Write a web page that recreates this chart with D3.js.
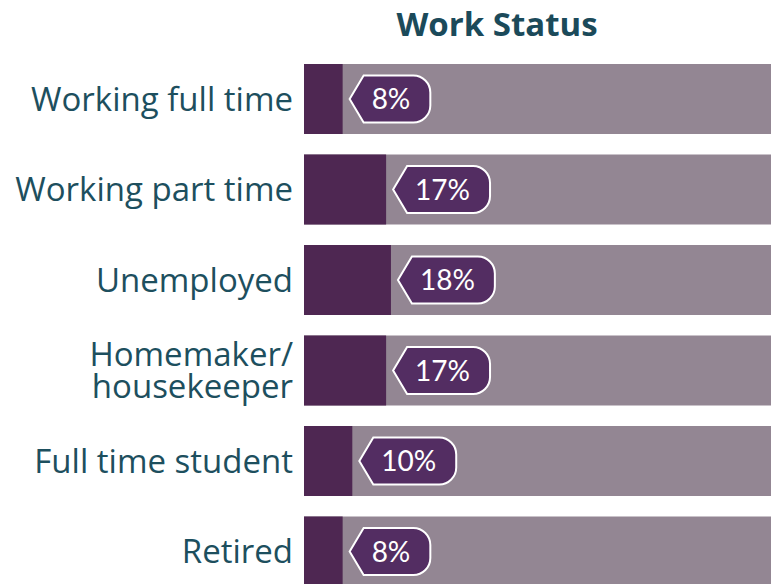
<!DOCTYPE html>
<html>
<head>
<meta charset="utf-8">
<script src="https://cdn.jsdelivr.net/npm/d3@7"></script>
<style>
  body { margin: 0; background: #fff; }
</style>
</head>
<body>
<div id="chart"></div>
<script>
var width = 772;
var height = 584;

// data
var categories = ["Working full time", "Working part time", "Unemployed",
  "Homemaker/\nhousekeeper", "Full time student", "Retired"];
var values = [8, 17, 18, 17, 10, 8];
var title = "Work Status";

var svg = d3.select("#chart").append("svg")
    .attr("width", width)
    .attr("height", height);

var x = d3.scaleLinear().domain([0, 100]).range([304, 787]);
var y = d3.scaleBand()
    .domain(categories)
    .range([64, 64 + 5 * 90.5 + 70])
    .paddingInner(20.5 / 90.5)
    .paddingOuter(0);

svg.append("text")
    .attr("x", 497)
    .attr("y", 36)
    .attr("text-anchor", "middle")
    .style("font-family", "Open Sans")
    .style("font-weight", "bold")
    .style("font-size", "33px")
    .style("fill", "#1b4a5a")
    .text(title);

var rows = svg.selectAll("g.row")
    .data(categories)
    .enter().append("g")
    .attr("class", "row");

// background track
rows.append("rect")
    .attr("x", x(0))
    .attr("y", d => y(d))
    .attr("width", 771 - x(0))
    .attr("height", y.bandwidth())
    .style("fill", "#938693");

// value bar
rows.append("rect")
    .attr("x", x(0))
    .attr("y", d => y(d))
    .attr("width", (d, i) => x(values[i]) - x(0))
    .attr("height", y.bandwidth())
    .style("fill", "#4e2752");

// category labels
rows.each(function(d) {
  var lines = d.split("\n");
  var cy = y(d) + y.bandwidth() / 2;
  var t = d3.select(this).append("text")
      .attr("text-anchor", "end")
      .style("font-family", "Open Sans")
      .style("font-size", "33px")
      .style("fill", "#1d4f5e");
  lines.forEach(function(line, k) {
    t.append("tspan")
      .attr("x", 293)
      .attr("y", cy + (k - (lines.length - 1) / 2) * 32)
      .attr("dy", "0.35em")
      .text(line);
  });
});

// callouts
rows.each(function(d, i) {
  var g = d3.select(this);
  var cy = y(d) + y.bandwidth() / 2;
  var tip = x(values[i]) + 7;
  var h = 47, aw = 14, r = 17;
  var label = g.append("text")
      .attr("x", tip + 22)
      .attr("y", cy)
      .attr("dy", "0.36em")
      .style("font-family", "Lato")
      .style("font-size", "28px")
      .style("fill", "#fff")
      .text(values[i] + "%");
  var tw = label.node().getComputedTextLength();
  var right = tip + 22 + tw + 20;
  var top = cy - h / 2, bot = cy + h / 2;
  var p = d3.path();
  p.moveTo(tip, cy);
  p.lineTo(tip + aw, top);
  p.lineTo(right - r, top);
  p.arcTo(right, top, right, top + r, r);
  p.lineTo(right, bot - r);
  p.arcTo(right, bot, right - r, bot, r);
  p.lineTo(tip + aw, bot);
  p.closePath();
  g.insert("path", "text:last-child")
    .attr("d", p.toString())
    .style("fill", "#532d62")
    .style("stroke", "#fff")
    .style("stroke-width", 2);
});
</script>
</body>
</html>
